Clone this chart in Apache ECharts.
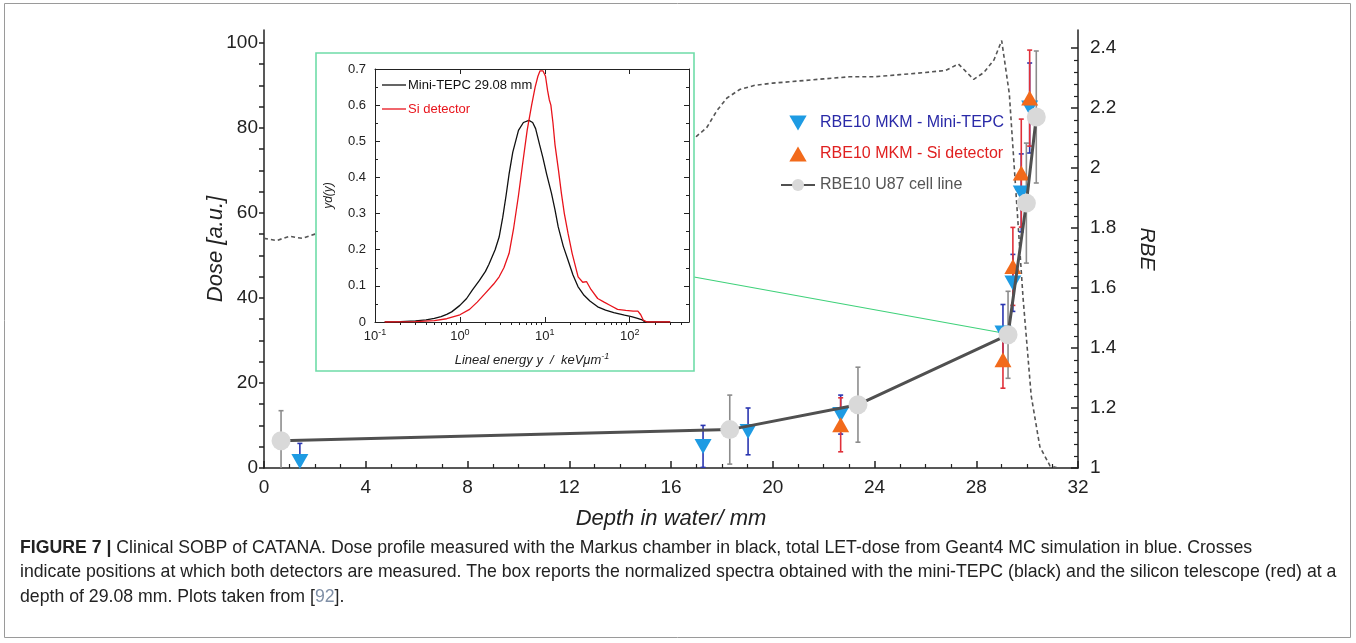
<!DOCTYPE html>
<html><head><meta charset="utf-8">
<script src="https://cdn.jsdelivr.net/npm/echarts@6/dist/echarts.min.js"></script>
<style>html,body{margin:0;padding:0;background:#fff}#c{width:1356px;height:643px}</style>
</head><body><div id="c"></div>
<script>
// ---- main chart: dose profile (left axis) ----
const doseDepth = [0,0.5,1,1.5,2,2.5,4,6,8,10,12,14,15.5,16.5,17.0,17.4,17.8,18.2,18.7,19.3,20,21,22,23,24,25,26,26.8,27.3,27.9,28.3,28.7,29.0,29.3,29.57,29.84,30.16,30.5,30.9,31.2];
const doseValue = [54,53.5,54.5,54,55,55.5,57,59,61,64,67,70,73,76,78,80,84,87,89,90,90.5,91,91.5,92,92,92.5,93,93.5,95,91.4,93,96,100.5,88,64,40,17,5,0.5,0];

// ---- RBE10 MKM - Mini-TEPC (right axis) ----
const tepcDepth = [1.41,17.26,19.03,22.67,29.05,29.44,29.77,30.10];
const tepcRBE   = [1.022,1.072,1.122,1.178,1.45,1.617,1.917,2.20];
const tepcErr   = [0.06,0.07,0.078,0.065,0.095,0.095,0.13,0.15];

// ---- RBE10 MKM - Si detector ----
const siDepth = [22.67,29.05,29.44,29.77,30.10];
const siRBE   = [1.144,1.361,1.672,1.983,2.233];
const siErr   = [0.09,0.095,0.13,0.18,0.16];

// ---- RBE10 U87 cell line ----
const u87Depth = [0.67,18.31,23.35,29.25,29.97,30.36];
const u87RBE   = [1.091,1.128,1.211,1.444,1.883,2.17];
const u87Err   = [0.1,0.115,0.125,0.145,0.2,0.22];

// ---- tick labels ----
const depthTicks = [0,4,8,12,16,20,24,28,32];
const doseTicks = [0,20,40,60,80,100];
const rbeTicks = [1,1.2,1.4,1.6,1.8,2,2.2,2.4];

// ---- inset: microdosimetric spectra ----
const tepcY   = [0.13,0.2,0.3,0.4,0.5,0.6,0.7,0.8,1.0,1.2,1.4,1.7,2.0,2.2,2.6,2.9,3.2,3.5,3.8,4.2,4.9,5.6,6.5,7.2,7.8,8.7,9.5,10.5,12,13.2,14.4,16.5,18.8,21.5,24.6,29,34,42,52,65,87,105,124,140,150,170,300];
const tepcYd  = [0,0.001,0.003,0.006,0.01,0.015,0.021,0.028,0.046,0.065,0.088,0.115,0.14,0.16,0.2,0.235,0.29,0.35,0.41,0.47,0.53,0.552,0.558,0.552,0.535,0.49,0.455,0.41,0.356,0.31,0.263,0.21,0.171,0.13,0.098,0.074,0.058,0.042,0.033,0.026,0.019,0.015,0.01,0.006,0.001,0,0];
const siY  = [0.13,0.3,0.5,0.7,1.0,1.3,1.6,2.0,2.5,2.9,3.3,3.8,4.3,4.9,5.5,6.2,7.0,7.7,8.3,8.8,9.5,10.2,10.8,11.3,11.8,12.5,13.2,14.5,15.7,17,18.8,21,24.7,28,31,35,42,50,60,72,90,110,125,135,145,160,300];
const siYd = [0,0.001,0.004,0.009,0.02,0.035,0.055,0.08,0.105,0.125,0.15,0.19,0.26,0.35,0.44,0.53,0.6,0.65,0.68,0.695,0.695,0.68,0.64,0.615,0.6,0.55,0.49,0.42,0.356,0.3,0.245,0.19,0.125,0.11,0.112,0.09,0.065,0.055,0.045,0.035,0.032,0.03,0.03,0.02,0.005,0,0];
const energyTicks = [0.1,1,10,100];
const energyMinor = [0.2,0.3,0.4,0.5,0.6,0.7,0.8,0.9,2,3,4,5,6,7,8,9,20,30,40,50,60,70,80,90,200,300,400];

const FONT = 'Liberation Sans';
const chart = echarts.init(document.getElementById('c'), null, {renderer:'canvas'});

function pairs(xs, ys){ return xs.map((x,i)=>[x, ys[i]]); }
function errData(xs, ys, es){ return xs.map((x,i)=>[x, ys[i]-es[i], ys[i]+es[i]]); }
function errRender(color){
  return function(params, api){
    const x = api.value(0);
    const p1 = api.coord([x, api.value(1)]);
    const p2 = api.coord([x, api.value(2)]);
    const c = 2.5, st = {stroke:color, lineWidth:1.6};
    return {type:'group', children:[
      {type:'line', shape:{x1:p1[0],y1:p1[1],x2:p2[0],y2:p2[1]}, style:st},
      {type:'line', shape:{x1:p1[0]-c,y1:p1[1],x2:p1[0]+c,y2:p1[1]}, style:st},
      {type:'line', shape:{x1:p2[0]-c,y1:p2[1],x2:p2[0]+c,y2:p2[1]}, style:st}
    ]};
  };
}
const rbeMinor = [];
for (let i=0;i<36;i++){ const v=+(1+i*0.04).toFixed(2); if (Math.abs((v-1)/0.2 - Math.round((v-1)/0.2))>1e-6) rbeMinor.push(v); }
const doseTickVals = []; for (let v=0; v<=100; v+=5) doseTickVals.push(v);

const downTri = 'path://M0,0L20,0L10,17.3Z';
const upTri = 'path://M10,0L20,17.3L0,17.3Z';

const insetZ = 6;
const option = {
  animation:false,
  backgroundColor:'#fff',
  textStyle:{fontFamily:FONT},
  grid:[
    {left:264, top:30, width:814, height:438, show:false},
    {left:375, top:69, width:314, height:253, show:false, z:insetZ}
  ],
  legend:{
    orient:'vertical', left:775, top:110, itemGap:15, itemWidth:34, itemHeight:15,
    textStyle:{fontFamily:FONT, fontSize:16},
    data:[
      {name:'RBE10 MKM - Mini-TEPC', textStyle:{color:'#2a2aa8'}},
      {name:'RBE10 MKM - Si detector', textStyle:{color:'#e02020'}},
      {name:'RBE10 U87 cell line', textStyle:{color:'#555'}}
    ]
  },
  xAxis:[
    {gridIndex:0, type:'value', min:0, max:32, interval:4,
     name:'Depth in water/ mm', nameLocation:'middle', nameGap:40,
     nameTextStyle:{fontSize:22, fontStyle:'italic', color:'#222'},
     axisLine:{lineStyle:{color:'#222', width:1.5}},
     axisTick:{inside:true, length:7, lineStyle:{color:'#222', width:1.5}},
     minorTick:{show:true, splitNumber:4, length:4, lineStyle:{color:'#222', width:1.2}},
     axisLabel:{fontSize:19, color:'#222', margin:10, customValues:depthTicks},
     splitLine:{show:false}},
    {gridIndex:1, type:'log', logBase:10, min:0.1, max:500, z:insetZ,
     name:'{i|Lineal energy y  /  keV}{m|μ}{i|m}{s|-1}', nameLocation:'middle', nameGap:30,
     nameTextStyle:{rich:{
       i:{fontSize:13, fontStyle:'italic', color:'#222', fontFamily:FONT},
       m:{fontSize:13, fontStyle:'italic', color:'#222', fontFamily:FONT},
       s:{fontSize:9, fontStyle:'italic', color:'#222', fontFamily:FONT, verticalAlign:'top', padding:[0,0,8,0]}}},
     axisLine:{onZero:false, lineStyle:{color:'#222', width:1}},
     axisTick:{inside:true, length:5, customValues:energyTicks, lineStyle:{color:'#222'}},
     axisLabel:{margin:6, customValues:energyTicks,
       formatter:function(v){ const e=Math.round(Math.log10(v)); return '{b|10}{s|'+e+'}'; },
       rich:{b:{fontSize:13, color:'#222', fontFamily:FONT}, s:{fontSize:9, color:'#222', fontFamily:FONT, verticalAlign:'top', padding:[0,0,8,0]}}},
     splitLine:{show:false}},
    {gridIndex:1, type:'log', logBase:10, min:0.1, max:500, position:'top', z:insetZ,
     axisLine:{onZero:false, lineStyle:{color:'#222', width:1}},
     axisTick:{inside:true, length:5, customValues:energyTicks, lineStyle:{color:'#222'}},
     axisLabel:{show:false}, splitLine:{show:false}},
    {gridIndex:1, type:'log', logBase:10, min:0.1, max:500, z:insetZ,
     axisLine:{show:false},
     axisTick:{inside:true, length:3, customValues:energyMinor, lineStyle:{color:'#222'}},
     axisLabel:{show:false}, splitLine:{show:false}},
    {gridIndex:1, type:'log', logBase:10, min:0.1, max:500, position:'top', z:insetZ,
     axisLine:{show:false},
     axisTick:{inside:true, length:3, customValues:energyMinor, lineStyle:{color:'#222'}},
     axisLabel:{show:false}, splitLine:{show:false}}
  ],
  yAxis:[
    {gridIndex:0, type:'value', min:0, max:103, position:'left',
     name:'Dose [a.u.]', nameLocation:'middle', nameGap:37, nameRotate:90, nameMoveOverlap:false,
     nameTextStyle:{fontSize:22, fontStyle:'italic', color:'#222'},
     axisLine:{show:true, lineStyle:{color:'#222', width:1.5}},
     axisTick:{show:true, inside:false, length:5, customValues:doseTickVals, lineStyle:{color:'#222', width:1.5}},
     axisLabel:{fontSize:19, color:'#222', margin:6, customValues:doseTicks},
     splitLine:{show:false}},
    {gridIndex:0, type:'value', min:1, max:2.46, position:'right',
     name:'RBE', nameLocation:'middle', nameGap:58, nameRotate:-90,
     nameTextStyle:{fontSize:21, fontStyle:'italic', color:'#222'},
     axisLine:{show:true, lineStyle:{color:'#222', width:1.5}},
     axisTick:{show:true, inside:true, length:7, customValues:rbeTicks, lineStyle:{color:'#222', width:1.5}},
     axisLabel:{fontSize:19, color:'#222', margin:12, customValues:rbeTicks, formatter:function(v){return String(+v.toFixed(1));}},
     splitLine:{show:false}},
    {gridIndex:0, type:'value', min:1, max:2.46, position:'right',
     axisLine:{show:false},
     axisTick:{show:true, inside:true, length:4, customValues:rbeMinor, lineStyle:{color:'#222', width:1.2}},
     axisLabel:{show:false}, splitLine:{show:false}},
    {gridIndex:1, type:'value', min:0, max:0.7, interval:0.1, position:'left', z:insetZ,
     name:'yd(y)', nameLocation:'middle', nameGap:40, nameRotate:90,
     nameTextStyle:{fontSize:12, fontStyle:'italic', color:'#222'},
     axisLine:{show:true, onZero:false, lineStyle:{color:'#222', width:1}},
     axisTick:{show:true, inside:true, length:5, lineStyle:{color:'#222'}},
     minorTick:{show:true, splitNumber:2, length:3, lineStyle:{color:'#222'}},
     axisLabel:{fontSize:13, color:'#222', margin:9, formatter:function(v){return String(+v.toFixed(1));}},
     splitLine:{show:false}},
    {gridIndex:1, type:'value', min:0, max:0.7, interval:0.1, position:'right', z:insetZ,
     axisLine:{show:true, onZero:false, lineStyle:{color:'#222', width:1}},
     axisTick:{show:true, inside:true, length:5, lineStyle:{color:'#222'}},
     minorTick:{show:true, splitNumber:2, length:3, lineStyle:{color:'#222'}},
     axisLabel:{show:false}, splitLine:{show:false}}
  ],
  series:[
    {name:'Dose profile', type:'line', xAxisIndex:0, yAxisIndex:0, data:pairs(doseDepth, doseValue),
     symbol:'none', z:1, lineStyle:{color:'#555', width:1.6, type:[4,3]}},
    {name:'u87err', type:'custom', xAxisIndex:0, yAxisIndex:1, data:errData(u87Depth,u87RBE,u87Err),
     renderItem:errRender('#8c8c8c'), z:2, clip:true},
    {name:'tepcerr', type:'custom', xAxisIndex:0, yAxisIndex:1, data:errData(tepcDepth,tepcRBE,tepcErr),
     renderItem:errRender('#2a35b0'), z:2, clip:true},
    {name:'sierr', type:'custom', xAxisIndex:0, yAxisIndex:1, data:errData(siDepth,siRBE,siErr),
     renderItem:errRender('#e0303a'), z:2, clip:true},
    {name:'RBE10 MKM - Mini-TEPC', type:'scatter', xAxisIndex:0, yAxisIndex:1, data:pairs(tepcDepth,tepcRBE),
     symbol:downTri, symbolSize:[17,15], itemStyle:{color:'#1e9be3', opacity:1}, z:3},
    {name:'RBE10 MKM - Si detector', type:'scatter', xAxisIndex:0, yAxisIndex:1, data:pairs(siDepth,siRBE),
     symbol:upTri, symbolSize:[17,15], itemStyle:{color:'#f26a1b', opacity:1}, z:3},
    {name:'RBE10 U87 cell line', type:'line', xAxisIndex:0, yAxisIndex:1, data:pairs(u87Depth,u87RBE),
     symbol:'circle', symbolSize:19, showSymbol:true, z:4,
     lineStyle:{color:'#505050', width:3}, itemStyle:{color:'#d9d9d9', borderWidth:0}},
    {name:'Mini-TEPC 29.08 mm', type:'line', xAxisIndex:1, yAxisIndex:3, data:pairs(tepcY,tepcYd),
     symbol:'none', z:insetZ+1, lineStyle:{color:'#111', width:1.3}},
    {name:'Si detector', type:'line', xAxisIndex:1, yAxisIndex:3, data:pairs(siY,siYd),
     symbol:'none', z:insetZ+1, lineStyle:{color:'#e8141c', width:1.3}}
  ]
};
chart.setOption(option);

// inset legend & box, caption
const insetLegend = [
  {name:'Mini-TEPC 29.08 mm', color:'#111', textColor:'#111'},
  {name:'Si detector', color:'#e8141c', textColor:'#e8141c'}
];
const p = chart.convertToPixel({xAxisIndex:0, yAxisIndex:1}, [tepcDepth[4], tepcRBE[4]]);
const graphics = [
  {type:'rect', shape:{x:316, y:53, width:378, height:318}, style:{fill:'#fff', stroke:'#6fdca8', lineWidth:1.6}, z:5},
  {type:'line', shape:{x1:694, y1:277, x2:p[0], y2:p[1]}, style:{stroke:'#3fd17a', lineWidth:1.2}, z:1},
  {type:'rect', shape:{x:4.5, y:3.5, width:1346, height:634}, style:{fill:null, stroke:'#9a9a9a', lineWidth:1}, z:0}
];
insetLegend.forEach((it,i)=>{
  const y = 85 + i*24;
  graphics.push({type:'line', shape:{x1:382, y1:y, x2:406, y2:y}, style:{stroke:it.color, lineWidth:1.3}, z:insetZ+2});
  graphics.push({type:'text', x:408, y:y, style:{text:it.name, fill:it.textColor, fontSize:13, fontFamily:FONT, textVerticalAlign:'middle'}, z:insetZ+2});
});
const capSize = 17.7;
const capLines = [
  '{b|FIGURE 7 |} Clinical SOBP of CATANA. Dose profile measured with the Markus chamber in black, total LET-dose from Geant4 MC simulation in blue. Crosses',
  'indicate positions at which both detectors are measured. The box reports the normalized spectra obtained with the mini-TEPC (black) and the silicon telescope (red) at a',
  'depth of 29.08 mm. Plots taken from [{g|92}].'
];
capLines.forEach((t,i)=>{
  graphics.push({type:'text', x:20, y:548 + i*24.5, z:10, style:{text:t, fontSize:capSize, fontFamily:FONT, fill:'#222', textVerticalAlign:'middle',
    rich:{b:{fontWeight:'bold', fontSize:capSize, fontFamily:FONT, fill:'#222'}, g:{fill:'#7f8fa6', fontSize:capSize, fontFamily:FONT}}}});
});
chart.setOption({graphic:{elements:graphics}});
</script>
</body></html>
